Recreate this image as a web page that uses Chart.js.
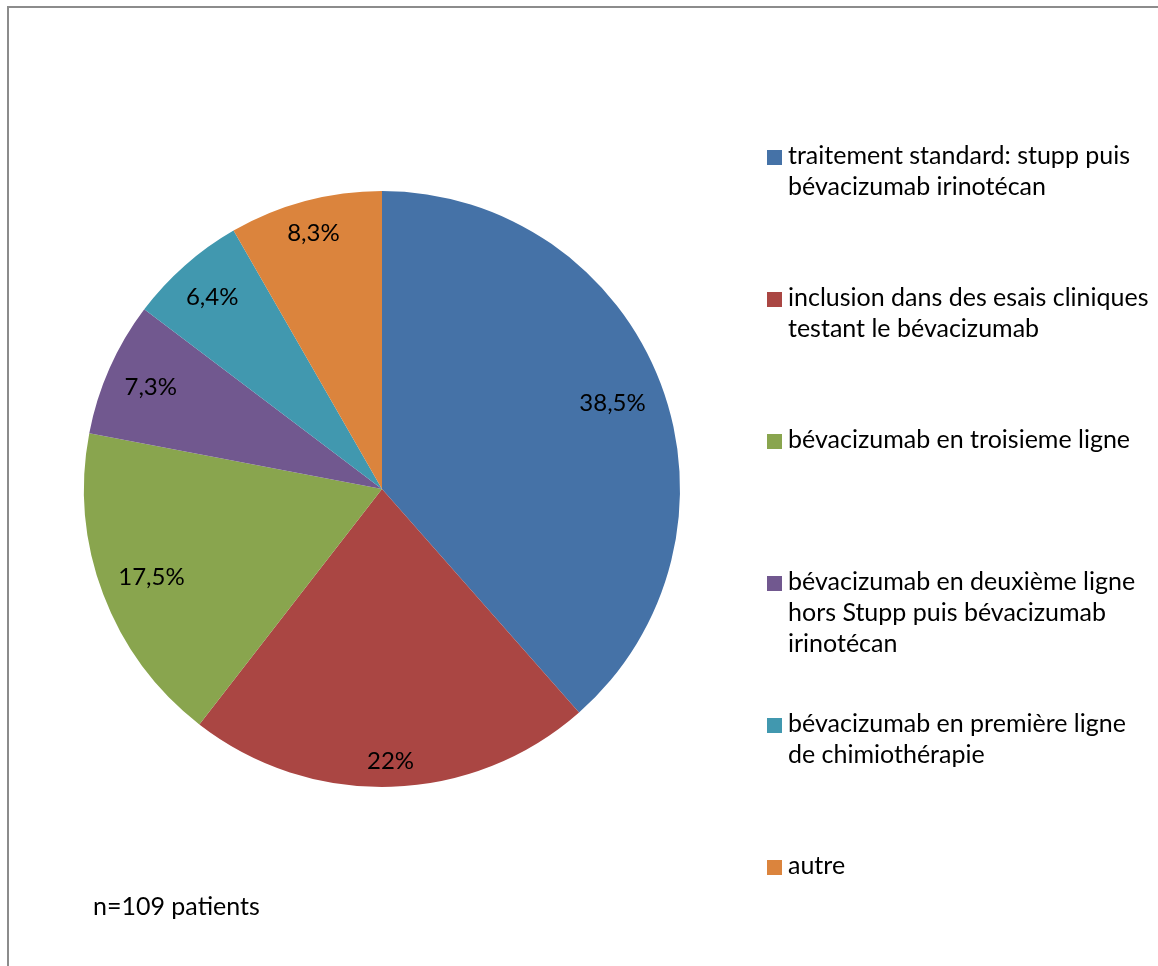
<!DOCTYPE html>
<html>
<head>
<meta charset="utf-8">
<script src="https://cdn.jsdelivr.net/npm/chart.js@4"></script>
<style>
  html, body { margin: 0; padding: 0; background: #ffffff; }
  body { width: 1158px; height: 966px; position: relative; overflow: hidden; font-family: Lato, "Open Sans", sans-serif; }
  #frame { position: absolute; left: 7px; top: 6px; width: 1200px; height: 1000px; border-left: 2px solid #8c8c8c; border-top: 2px solid #8c8c8c; box-sizing: border-box; }
  #wrap { position: absolute; left: 0; top: 0; width: 1158px; height: 966px; }
  #legend { position: absolute; left: 767px; top: 139px; width: 390px; }
  .item { position: relative; height: 142px; }
  .box { position: absolute; left: 0; top: 11px; width: 15px; height: 15px; }
  .txt { position: absolute; left: 21px; top: 0; font-size: 25px; line-height: 31px; color: #000; white-space: nowrap; }
  #note { position: absolute; left: 93px; top: 890px; font-size: 25px; line-height: 31px; color: #000; }
</style>
</head>
<body>
<div id="frame"></div>
<div id="wrap"><canvas id="c" width="1158" height="966"></canvas></div>
<div id="legend"></div>
<div id="note"></div>
<script>
// ---- data ----
const categories = [
  ["traitement standard: stupp puis", "bévacizumab irinotécan"],
  ["inclusion dans des esais cliniques", "testant le bévacizumab"],
  ["bévacizumab en troisieme ligne"],
  ["bévacizumab en deuxième ligne", "hors Stupp puis bévacizumab", "irinotécan"],
  ["bévacizumab en première ligne", "de chimiothérapie"],
  ["autre"]
];
const percentages = [38.5, 22, 17.5, 7.3, 6.4, 8.3];
const sliceColors = ["#4572A7", "#AA4643", "#89A54E", "#71588F", "#4198AF", "#DB843D"];
const noteText = "n=109 patients";

const FONT = "24px Lato, 'Open Sans', sans-serif";

function fmt(v) { return String(v).replace('.', ',') + '%'; }

// data labels placed inside slices, near the outer edge
const labelPlugin = {
  id: 'sliceLabels',
  afterDatasetsDraw(chart) {
    const ctx = chart.ctx;
    const meta = chart.getDatasetMeta(0);
    ctx.save();
    ctx.font = FONT;
    ctx.fillStyle = '#000';
    ctx.textAlign = 'center';
    ctx.textBaseline = 'middle';
    meta.data.forEach((arc, i) => {
      const p = arc.getProps(['x', 'y', 'startAngle', 'endAngle', 'outerRadius'], true);
      const mid = (p.startAngle + p.endAngle) / 2;
      const txt = fmt(percentages[i]);
      const m = ctx.measureText(txt);
      const hw = m.width / 2 + 1;
      const hh = 9;
      const cx = Math.cos(mid), sy = Math.sin(mid);
      const d = p.outerRadius * 0.945 - (hw * Math.abs(cx) + hh * Math.abs(sy));
      ctx.fillText(txt, p.x + cx * d, p.y + sy * d + 1);
    });
    ctx.restore();
  }
};

new Chart(document.getElementById('c'), {
  type: 'pie',
  data: {
    labels: categories.map(l => l.join(' ')),
    datasets: [{
      data: percentages,
      backgroundColor: sliceColors,
      borderWidth: 0,
      hoverOffset: 0
    }]
  },
  options: {
    responsive: false,
    animation: false,
    layout: { padding: { left: 84, top: 191, right: 478, bottom: 179 } },
    plugins: { legend: { display: false }, tooltip: { enabled: false } }
  },
  plugins: [labelPlugin]
});

// HTML legend
const legend = document.getElementById('legend');
categories.forEach((lines, i) => {
  const item = document.createElement('div');
  item.className = 'item';
  const box = document.createElement('div');
  box.className = 'box';
  box.style.background = sliceColors[i];
  const t = document.createElement('div');
  t.className = 'txt';
  t.innerHTML = lines.map(s => s.replace(/&/g, '&amp;').replace(/</g, '&lt;')).join('<br>');
  item.appendChild(box);
  item.appendChild(t);
  legend.appendChild(item);
});
document.getElementById('note').textContent = noteText;
</script>
</body>
</html>
